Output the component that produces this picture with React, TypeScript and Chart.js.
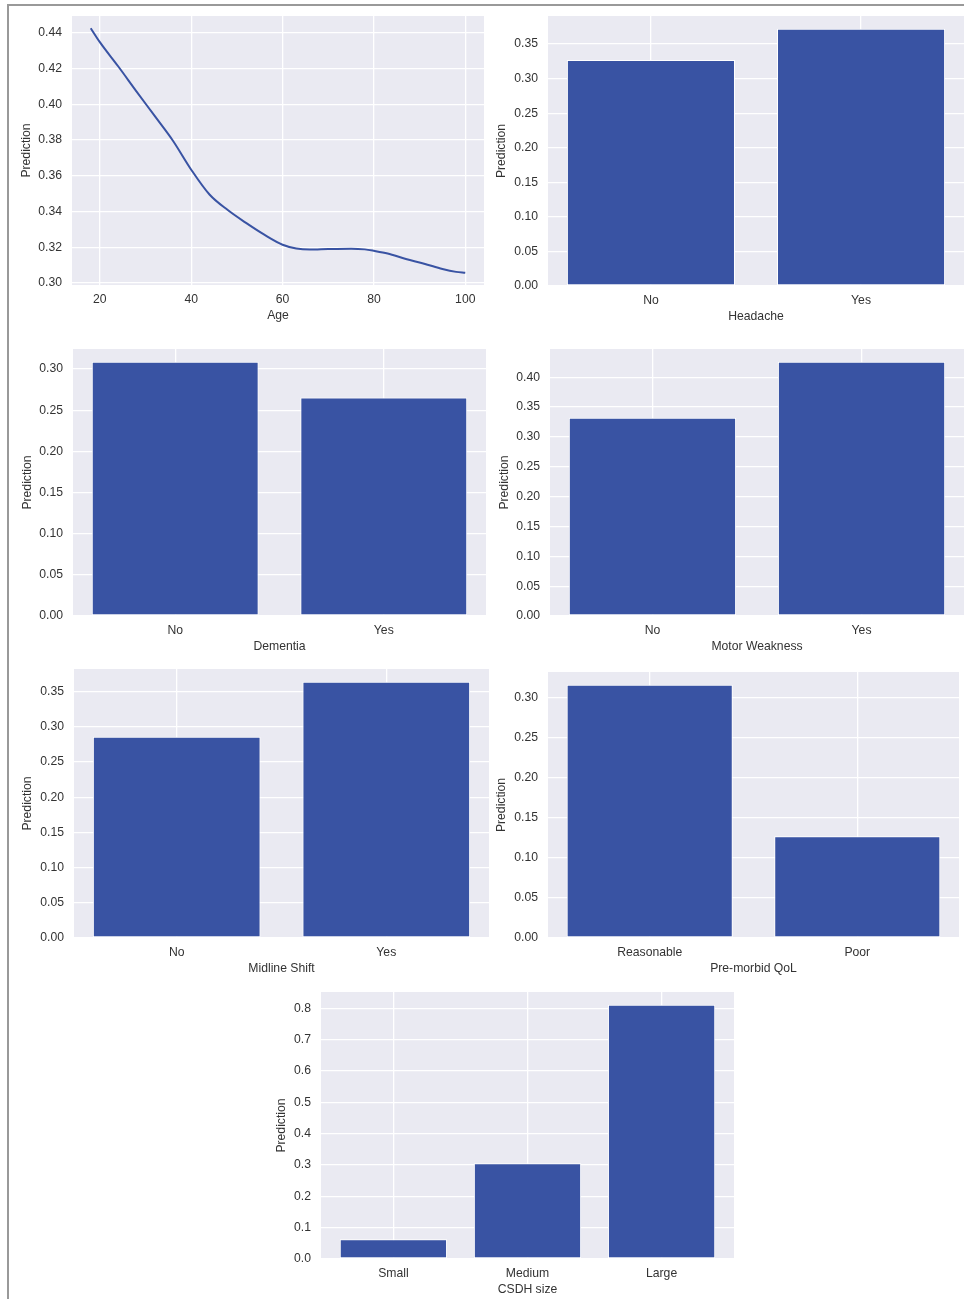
import React, { useEffect, useRef } from 'react';
import { Chart, registerables } from 'chart.js';

Chart.register(...registerables);

// ---- Data ---------------------------------------------------------------

// Effect of patient age on the predicted outcome
const ageYears = [18, 20, 24, 28, 32, 36, 40, 44, 48, 52, 56, 60, 63, 66, 70, 75, 78, 80, 83, 87, 91, 95, 98, 100];
const agePrediction = [
  0.4426, 0.4348, 0.4213, 0.4073, 0.3935, 0.3796, 0.3634, 0.3495, 0.3408, 0.3336, 0.3270, 0.3214,
  0.3193, 0.3187, 0.3190, 0.3192, 0.3188, 0.3180, 0.3165, 0.3134, 0.3108, 0.3078, 0.3062, 0.3057,
];
const ageXTicks = [20, 40, 60, 80, 100];
const ageYTicks = [0.3, 0.32, 0.34, 0.36, 0.38, 0.4, 0.42, 0.44];

const yesNo = ['No', 'Yes'];
const headachePrediction = [0.327, 0.372];
const headacheYTicks = [0, 0.05, 0.1, 0.15, 0.2, 0.25, 0.3, 0.35];

const dementiaPrediction = [0.309, 0.2655];
const dementiaYTicks = [0, 0.05, 0.1, 0.15, 0.2, 0.25, 0.3];

const motorWeaknessPrediction = [0.332, 0.426];
const motorWeaknessYTicks = [0, 0.05, 0.1, 0.15, 0.2, 0.25, 0.3, 0.35, 0.4];

const midlineShiftPrediction = [0.286, 0.364];
const midlineShiftYTicks = [0, 0.05, 0.1, 0.15, 0.2, 0.25, 0.3, 0.35];

const qolCategories = ['Reasonable', 'Poor'];
const qolPrediction = [0.316, 0.127];
const qolYTicks = [0, 0.05, 0.1, 0.15, 0.2, 0.25, 0.3];

const csdhCategories = ['Small', 'Medium', 'Large'];
const csdhPrediction = [0.063, 0.305, 0.811];
const csdhYTicks = [0, 0.1, 0.2, 0.3, 0.4, 0.5, 0.6, 0.7, 0.8];

// ---- Styling ------------------------------------------------------------

const FONT = { family: '"Liberation Sans", Arial, Helvetica, sans-serif', size: 12.2 };
const TEXT = '#333333';
const PLOT_BG = '#eaeaf2';
const MARK = '#3953a3';
const Y_AXIS_W = 60;
const X_AXIS_H = 45;

type Box = { left: number; top: number; right: number; bottom: number };

type PanelSpec = {
  kind: 'line' | 'bar';
  box: Box;
  xTitle: string;
  yTitlePad: number;
  yTicks: number[];
  yDecimals: number;
  categories?: string[];
  values: number[];
  xValues?: number[];
  xTicks?: number[];
};

// Autoscale with 5% margins on each side
function padded(lo: number, hi: number) {
  const m = (hi - lo) * 0.05;
  return [lo - m, hi + m];
}

const plotBackground = {
  id: 'plotBackground',
  beforeDraw(chart: any) {
    const { ctx, chartArea } = chart;
    ctx.save();
    ctx.fillStyle = PLOT_BG;
    ctx.fillRect(chartArea.left, chartArea.top, chartArea.right - chartArea.left, chartArea.bottom - chartArea.top);
    ctx.restore();
  },
};

function buildConfig(spec: PanelSpec): any {
  let xMin: number, xMax: number, yMin: number, yMax: number;
  let xTicks: number[];
  let xLabel: (v: number) => string;
  let data: any;

  if (spec.kind === 'line') {
    const xs = spec.xValues as number[];
    [xMin, xMax] = padded(Math.min(...xs), Math.max(...xs));
    [yMin, yMax] = padded(Math.min(...spec.values), Math.max(...spec.values));
    xTicks = spec.xTicks as number[];
    xLabel = (v) => String(v);
    data = {
      datasets: [
        {
          data: xs.map((x, i) => ({ x, y: spec.values[i] })),
          borderColor: MARK,
          borderWidth: 2,
          pointRadius: 0,
          tension: 0.4,
          cubicInterpolationMode: 'monotone',
          fill: false,
        },
      ],
    };
  } else {
    const cats = spec.categories as string[];
    [xMin, xMax] = padded(-0.4, cats.length - 1 + 0.4);
    yMin = 0;
    yMax = padded(0, Math.max(...spec.values))[1];
    xTicks = cats.map((_, i) => i);
    xLabel = (v) => cats[v] ?? '';
    data = {
      datasets: [
        {
          data: spec.values.map((y, i) => ({ x: i, y })),
          backgroundColor: MARK,
          borderColor: '#ffffff',
          borderWidth: 1,
          borderSkipped: false,
          barPercentage: 0.8,
          categoryPercentage: 1,
        },
      ],
    };
  }

  return {
    type: spec.kind,
    data,
    plugins: [plotBackground],
    options: {
      responsive: false,
      animation: false,
      devicePixelRatio: 1,
      layout: { padding: 0, autoPadding: false },
      plugins: { legend: { display: false }, tooltip: { enabled: false } },
      scales: {
        x: {
          type: 'linear',
          position: 'bottom',
          min: xMin,
          max: xMax,
          offset: false,
          afterFit: (s: any) => {
            s.height = X_AXIS_H;
            s.paddingLeft = 0;
            s.paddingRight = 0;
            s.paddingTop = 0;
            s.paddingBottom = 0;
          },
          afterBuildTicks: (s: any) => {
            s.ticks = xTicks.map((value) => ({ value }));
          },
          ticks: {
            padding: 7,
            color: TEXT,
            font: FONT,
            maxRotation: 0,
            autoSkip: false,
            callback: (v: number) => xLabel(v),
          },
          grid: { color: '#ffffff', lineWidth: 1.3, drawTicks: false, offset: false },
          border: { display: false },
          title: { display: true, text: spec.xTitle, color: TEXT, font: FONT, padding: { top: 0, bottom: 7.5 } },
        },
        y: {
          type: 'linear',
          position: 'left',
          min: yMin,
          max: yMax,
          afterFit: (s: any) => {
            s.width = Y_AXIS_W;
            s.paddingLeft = 0;
            s.paddingRight = 0;
            s.paddingTop = 0;
            s.paddingBottom = 0;
          },
          afterBuildTicks: (s: any) => {
            s.ticks = spec.yTicks.map((value) => ({ value }));
          },
          ticks: {
            padding: 10,
            color: TEXT,
            font: FONT,
            callback: (v: number) => Number(v).toFixed(spec.yDecimals),
          },
          grid: { color: '#ffffff', lineWidth: 1.3, drawTicks: false },
          border: { display: false },
          title: {
            display: true,
            text: 'Prediction',
            color: TEXT,
            font: FONT,
            padding: { top: spec.yTitlePad, bottom: 0 },
          },
        },
      },
    },
  };
}

function Panel({ spec }: { spec: PanelSpec }) {
  const ref = useRef<HTMLCanvasElement>(null);
  useEffect(() => {
    if (!ref.current) return;
    const chart = new Chart(ref.current, buildConfig(spec));
    return () => chart.destroy();
  }, [spec]);
  const left = spec.box.left - Y_AXIS_W;
  const width = spec.box.right - left;
  const height = spec.box.bottom - spec.box.top + X_AXIS_H;
  return (
    <canvas
      ref={ref}
      width={width}
      height={height}
      style={{ position: 'absolute', left, top: spec.box.top, width, height }}
    />
  );
}

const panels: PanelSpec[] = [
  {
    kind: 'line',
    box: { left: 72, top: 16, right: 484, bottom: 285 },
    xTitle: 'Age',
    yTitlePad: 7.2,
    yTicks: ageYTicks,
    yDecimals: 2,
    values: agePrediction,
    xValues: ageYears,
    xTicks: ageXTicks,
  },
  {
    kind: 'bar',
    box: { left: 548, top: 16, right: 964, bottom: 286 },
    xTitle: 'Headache',
    yTitlePad: 6.2,
    yTicks: headacheYTicks,
    yDecimals: 2,
    categories: yesNo,
    values: headachePrediction,
  },
  {
    kind: 'bar',
    box: { left: 73, top: 349, right: 486, bottom: 616 },
    xTitle: 'Dementia',
    yTitlePad: 7.2,
    yTicks: dementiaYTicks,
    yDecimals: 2,
    categories: yesNo,
    values: dementiaPrediction,
  },
  {
    kind: 'bar',
    box: { left: 550, top: 349, right: 964, bottom: 616 },
    xTitle: 'Motor Weakness',
    yTitlePad: 7.2,
    yTicks: motorWeaknessYTicks,
    yDecimals: 2,
    categories: yesNo,
    values: motorWeaknessPrediction,
  },
  {
    kind: 'bar',
    box: { left: 74, top: 669, right: 489, bottom: 938 },
    xTitle: 'Midline Shift',
    yTitlePad: 6.8,
    yTicks: midlineShiftYTicks,
    yDecimals: 2,
    categories: yesNo,
    values: midlineShiftPrediction,
  },
  {
    kind: 'bar',
    box: { left: 548, top: 672, right: 959, bottom: 938 },
    xTitle: 'Pre-morbid QoL',
    yTitlePad: 6.8,
    yTicks: qolYTicks,
    yDecimals: 2,
    categories: qolCategories,
    values: qolPrediction,
  },
  {
    kind: 'bar',
    box: { left: 321, top: 992, right: 734, bottom: 1259 },
    xTitle: 'CSDH size',
    yTitlePad: 13.8,
    yTicks: csdhYTicks,
    yDecimals: 1,
    categories: csdhCategories,
    values: csdhPrediction,
  },
];

export default function App() {
  return (
    <div
      style={{
        position: 'absolute',
        left: 0,
        top: 0,
        width: 964,
        height: 1299,
        background: '#ffffff',
        overflow: 'hidden',
      }}
    >
      <div style={{ position: 'absolute', left: 7, top: 4, width: 957, height: 2, background: '#999999' }} />
      <div style={{ position: 'absolute', left: 7, top: 4, width: 2, height: 1295, background: '#999999' }} />
      {panels.map((p) => (
        <Panel key={p.xTitle} spec={p} />
      ))}
    </div>
  );
}
